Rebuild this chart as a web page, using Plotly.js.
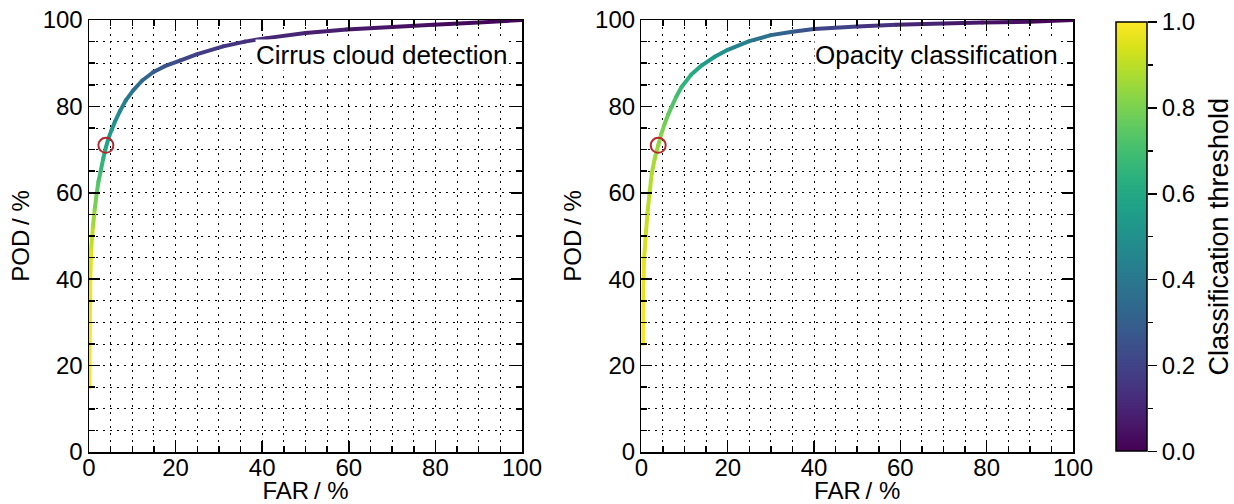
<!DOCTYPE html>
<html>
<head>
<meta charset="utf-8">
<script src="https://cdn.plot.ly/plotly-3.0.1.min.js"></script>
<style>html,body{margin:0;padding:0;background:#fff;}#chart{width:1234px;height:504px;}</style>
</head>
<body>
<div id="chart"></div>
<script>
// ---- data ----
const cirrusFAR = [0.1, 0.2, 0.3, 0.5, 0.9, 1.3, 1.8, 2.2, 2.7, 3.3, 3.9, 4.5, 5.2, 6.0, 7.2, 8.5, 10.2, 12.3, 14.8, 17.5, 21, 25, 31, 36, 41, 50, 59.5, 70, 79.5, 90, 100];
const cirrusPOD = [15, 30, 40, 47, 52, 56, 60, 62.7, 65, 68, 70.5, 72.6, 74.5, 76.5, 79, 81.4, 83.7, 86, 87.9, 89.3, 90.6, 92.1, 93.9, 95.0, 95.8, 97, 97.8, 98.4, 98.9, 99.4, 100];
const cirrusThr = [1.0, 0.99, 0.97, 0.93, 0.88, 0.82, 0.76, 0.72, 0.68, 0.64, 0.60, 0.56, 0.53, 0.50, 0.46, 0.42, 0.38, 0.34, 0.30, 0.26, 0.22, 0.19, 0.16, 0.14, 0.12, 0.09, 0.07, 0.05, 0.03, 0.02, 0.0];

const opacityFAR = [0.35, 0.4, 0.6, 1.0, 1.4, 1.9, 2.4, 3.1, 3.9, 4.6, 5.4, 6.2, 7.0, 8.1, 9.3, 11.5, 14, 17, 20, 25, 30, 35, 40, 50, 59, 70, 79, 90, 100];
const opacityPOD = [25, 35, 44.5, 50, 55.2, 60, 64.5, 68, 71, 73.6, 76, 78.1, 79.9, 82.3, 84.5, 87.3, 89.5, 91.5, 93.1, 95.1, 96.5, 97.3, 97.9, 98.5, 98.9, 99.2, 99.4, 99.6, 100];
const opacityThr = [1.0, 0.98, 0.95, 0.93, 0.91, 0.895, 0.88, 0.86, 0.84, 0.815, 0.79, 0.765, 0.74, 0.705, 0.67, 0.62, 0.57, 0.52, 0.48, 0.41, 0.35, 0.29, 0.23, 0.17, 0.12, 0.08, 0.05, 0.03, 0.0];

const cirrusOptFAR = [3.9];
const cirrusOptPOD = [71];
const opacityOptFAR = [3.9];
const opacityOptPOD = [71];

const panelLabels = ['Cirrus cloud detection', 'Opacity classification'];
const xTitle = 'FAR\u2009/ %';
const yTitle = 'POD\u2009/ %';
const cbTitle = 'Classification threshold';

// ---- styling ----
const viridis = [[0,'#440154'],[0.06274509803921569,'#48186a'],[0.12549019607843137,'#472d7b'],[0.18823529411764706,'#424086'],[0.25098039215686274,'#3b528b'],[0.3137254901960784,'#33638d'],[0.3764705882352941,'#2c728e'],[0.4392156862745098,'#26828e'],[0.5019607843137255,'#21918c'],[0.5647058823529412,'#1fa088'],[0.6274509803921569,'#28ae80'],[0.6901960784313725,'#3fbc73'],[0.7529411764705882,'#5ec962'],[0.8156862745098039,'#84d44b'],[0.8784313725490196,'#addc30'],[0.9411764705882353,'#d8e219'],[1,'#fde725']];
function hexToRgb(h){return [parseInt(h.slice(1,3),16),parseInt(h.slice(3,5),16),parseInt(h.slice(5,7),16)];}
function viridisAt(t){
  t = Math.max(0, Math.min(1, t));
  for (let i = 0; i < viridis.length - 1; i++) {
    const [a, ca] = viridis[i], [b, cb] = viridis[i+1];
    if (t >= a && t <= b) {
      const f = (t - a) / (b - a), A = hexToRgb(ca), B = hexToRgb(cb);
      return 'rgb(' + A.map((v, k) => Math.round(v + (B[k] - v) * f)).join(',') + ')';
    }
  }
  return viridis[viridis.length-1][1];
}

const FONT = 'Liberation Sans, Arial, sans-serif';
const LW = 4;
const traces = [];
function addCurve(far, pod, thr, xa, ya, withScale) {
  for (let i = 0; i < far.length - 1; i++) {
    traces.push({
      type: 'scatter', mode: 'lines', xaxis: xa, yaxis: ya,
      x: [far[i], far[i+1]], y: [pod[i], pod[i+1]],
      line: {color: viridisAt((thr[i] + thr[i+1]) / 2), width: LW},
      hoverinfo: 'skip', showlegend: false
    });
  }
  const m = {
    type: 'scatter', mode: 'markers', xaxis: xa, yaxis: ya,
    x: far, y: pod,
    marker: {color: thr, colorscale: viridis, cmin: 0, cmax: 1, size: LW, line: {width: 0}, showscale: false},
    showlegend: false, hoverinfo: 'skip'
  };
  if (withScale) {
    m.marker.showscale = true;
    m.marker.colorbar = {
      x: (1116 - 89) / 1058, xanchor: 'left', xref: 'paper',
      y: 0.0012, yanchor: 'bottom', len: 0.9942, lenmode: 'fraction',
      thickness: 31, thicknessmode: 'pixels',
      xpad: 0, ypad: 0,
      outlinewidth: 1.5, outlinecolor: '#000',
      ticks: '', showticklabels: false
    };
  }
  traces.push(m);
}
addCurve(cirrusFAR, cirrusPOD, cirrusThr, 'x', 'y', true);
addCurve(opacityFAR, opacityPOD, opacityThr, 'x2', 'y2', false);

function addOpt(fx, fy, xa, ya) {
  traces.push({
    type: 'scatter', mode: 'markers', xaxis: xa, yaxis: ya, x: fx, y: fy,
    marker: {symbol: 'circle-open', size: 15, color: '#b5272d', line: {width: 2, color: '#b5272d'}},
    showlegend: false, hoverinfo: 'skip'
  });
}
addOpt(cirrusOptFAR, cirrusOptPOD, 'x', 'y');
addOpt(opacityOptFAR, opacityOptPOD, 'x2', 'y2');

// dummy trace for the colorbar tick axis
traces.push({type: 'scatter', mode: 'markers', xaxis: 'x3', yaxis: 'y3', x: [null], y: [null], showlegend: false, hoverinfo: 'skip'});

const DASH = '2px,5px';
function xAxis(domain, anchor) {
  return {
    domain: domain, anchor: anchor, range: [0, 100], dtick: 20, tick0: 0,
    showline: true, linecolor: '#000', linewidth: 1.5, mirror: 'ticks',
    ticks: 'inside', ticklen: 11, tickwidth: 1.5, tickcolor: '#000',
    showgrid: true, gridcolor: '#000', gridwidth: 1, griddash: DASH, zeroline: false,
    tickfont: {family: FONT, size: 24, color: '#000'}, ticklabelstandoff: -6,
    minor: {dtick: 5, ticks: 'inside', ticklen: 6, tickwidth: 1.5, tickcolor: '#000', showgrid: true, gridcolor: '#000', gridwidth: 1, griddash: DASH},
    title: {text: xTitle, font: {family: FONT, size: 24, color: '#000'}, standoff: 14},
    fixedrange: true
  };
}
function yAxis(anchor) {
  return {
    domain: [0, 1], anchor: anchor, range: [0, 100], dtick: 20, tick0: 0,
    showline: true, linecolor: '#000', linewidth: 1.5, mirror: 'ticks',
    ticks: 'inside', ticklen: 11, tickwidth: 1.5, tickcolor: '#000',
    showgrid: true, gridcolor: '#000', gridwidth: 1, griddash: DASH, zeroline: false,
    tickfont: {family: FONT, size: 24, color: '#000'},
    minor: {dtick: 5, ticks: 'inside', ticklen: 6, tickwidth: 1.5, tickcolor: '#000', showgrid: true, gridcolor: '#000', gridwidth: 1, griddash: DASH},
    title: {text: yTitle, font: {family: FONT, size: 24, color: '#000'}, standoff: 6},
    fixedrange: true
  };
}

const layout = {
  width: 1234, height: 504,
  margin: {l: 89, r: 87, t: 20, b: 51.5},
  paper_bgcolor: '#fff', plot_bgcolor: '#fff',
  showlegend: false,
  xaxis: xAxis([0, 433 / 1058], 'y'),
  yaxis: yAxis('x'),
  xaxis2: xAxis([(641.4 - 89) / 1058, (1073 - 89) / 1058], 'y2'),
  yaxis2: yAxis('x2'),
  xaxis3: {domain: [(1116 - 89) / 1058, 1], anchor: 'y3', visible: false, range: [0, 1], fixedrange: true},
  yaxis3: {
    domain: [0.0012, 0.9954], anchor: 'x3', side: 'right', range: [0, 1],
    showline: false, showgrid: false, zeroline: false,
    ticks: 'outside', ticklen: 9, tickwidth: 1.5, tickcolor: '#000', dtick: 0.2, tick0: 0, tickformat: '.1f',
    minor: {dtick: 0.1, ticks: 'outside', ticklen: 5, tickwidth: 1.5, tickcolor: '#000', showgrid: false},
    tickfont: {family: FONT, size: 24, color: '#000'},
    title: {text: cbTitle, font: {family: FONT, size: 27, color: '#000'}, standoff: 16},
    fixedrange: true
  },
  annotations: panelLabels.map((t, i) => ({
    text: t, xref: (i === 0 ? 'x' : 'x2') + ' domain', yref: (i === 0 ? 'y' : 'y2') + ' domain',
    x: 0.968, y: 0.919, xanchor: 'right', yanchor: 'middle', showarrow: false,
    font: {family: FONT, size: 26, color: '#000'}, bgcolor: '#fff', borderpad: 0
  }))
};

Plotly.newPlot('chart', traces, layout, {displayModeBar: false, staticPlot: true});
</script>
</body>
</html>
